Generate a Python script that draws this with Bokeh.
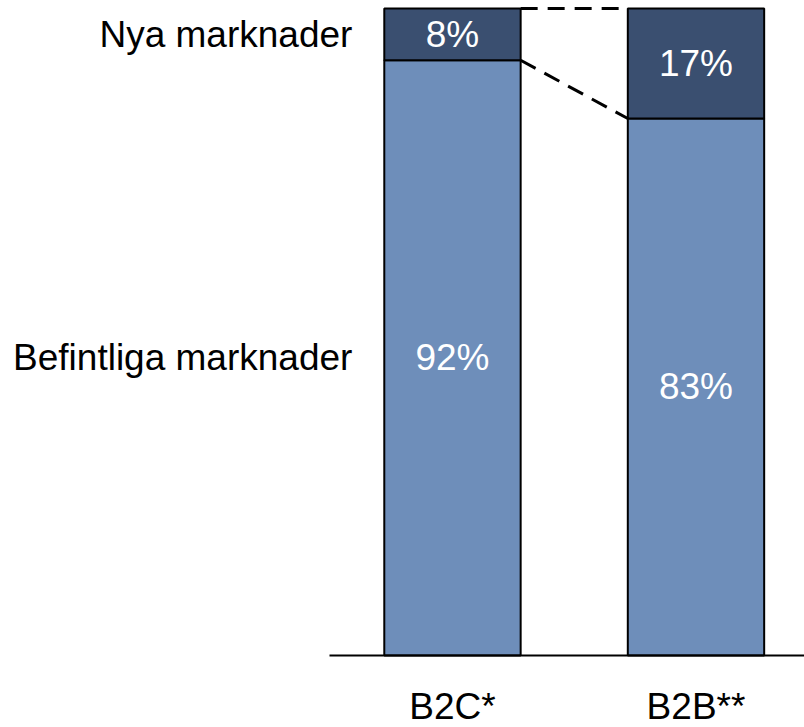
from bokeh.plotting import figure
from bokeh.models import Range1d, ColumnDataSource
from bokeh.core.properties import value
from bokeh.embed import file_html
from bokeh.resources import INLINE

# Share of sales: existing vs. new markets
categories = ["B2C*", "B2B**"]
existing = [92, 83]
new = [8, 17]
series_names = ["Befintliga marknader", "Nya marknader"]

DARK = "#3A4F70"
LIGHT = "#6E8EBA"
FONT = "Liberation Sans"
FS = "37px"

xs = list(range(len(categories)))
bar_w = 0.56

p = figure(width=804, height=727, output_backend="svg", toolbar_location=None,
           x_range=Range1d(-1.856, 1.4456), y_range=Range1d(-11.13, 101.24),
           min_border=0, min_border_left=0, min_border_right=0,
           min_border_top=0, min_border_bottom=0)
p.axis.visible = False
p.grid.visible = False
p.outline_line_color = None
p.background_fill_color = "white"
p.border_fill_color = "white"

tops_total = [e + n for e, n in zip(existing, new)]

src = ColumnDataSource(dict(
    x=xs, existing=existing, new=new, total=tops_total,
    lbl_e=[f"{v}%" for v in existing], lbl_n=[f"{v}%" for v in new],
    mid_e=[v / 2 for v in existing],
    mid_n=[e + n / 2 for e, n in zip(existing, new)],
    cat=categories,
    cat_y=[-7.9] * len(xs),
))

p.vbar(x="x", bottom=0, top="existing", width=bar_w, source=src,
       fill_color=LIGHT, line_color="black", line_width=2)
p.vbar(x="x", bottom="existing", top="total", width=bar_w, source=src,
       fill_color=DARK, line_color="black", line_width=2)

# connector lines between the bars
half = bar_w / 2
p.segment(x0=[xs[0] + half, xs[0] + half], y0=[tops_total[0], existing[0]],
          x1=[xs[1] - half, xs[1] - half], y1=[tops_total[1], existing[1]],
          line_color="black", line_width=3, line_dash="17 10")

# baseline
p.segment(x0=[-0.505], y0=[0], x1=[1.45], y1=[0], line_color="black", line_width=2)

# value labels
p.text(x="x", y="mid_e", text="lbl_e", source=src, text_color="white",
       text_font=value(FONT), text_font_size=FS, text_align="center",
       text_baseline="middle")
p.text(x="x", y="mid_n", text="lbl_n", source=src, text_color="white",
       text_font=value(FONT), text_font_size=FS, text_align="center",
       text_baseline="middle")

# category labels
p.text(x="x", y="cat_y", text="cat", source=src, text_color="black",
       text_font=value(FONT), text_font_size=FS, text_align="center",
       text_baseline="middle")

# series labels beside the first bar
p.text(x=[-0.411, -0.411], y=[existing[0] / 2, existing[0] + new[0] / 2],
       text=series_names, text_color="black",
       text_font=value(FONT), text_font_size=FS, text_align="right",
       text_baseline="middle")

open("out.html", "w").write(file_html(p, INLINE))
